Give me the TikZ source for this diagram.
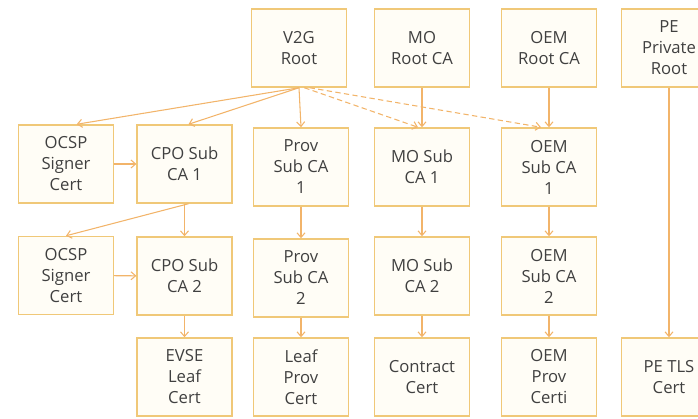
\documentclass[tikz,border=0pt]{standalone}
\usepackage{fontspec}
\setmainfont{Open Sans}
\usetikzlibrary{arrows.meta,positioning}
\definecolor{boxline}{HTML}{F0C878}
\definecolor{boxfill}{HTML}{FFFDF6}
\definecolor{arrowline}{HTML}{F2B46A}
\definecolor{certtext}{HTML}{404040}

\begin{document}
\begin{tikzpicture}
			[x=0.75pt,y=-0.75pt,
			cert/.style={rectangle,draw=boxline,fill=boxfill,line width=1.1pt,minimum width=71pt,minimum height=58.5pt,align=center,text=certtext,font=\fontsize{12.5}{15.75}\selectfont,inner sep=1pt},
			link/.style={draw=arrowline,line width=0.8pt,-{Straight Barb[length=3.5pt,width=6pt]}},
			cross/.style={link,dashed,dash pattern=on 4pt off 2.5pt},
			]
			\clip (0,0) rectangle (698,418);
			% roots
			\node (v2g) [cert] at (299,48) {V2G\\Root};
			\node (mor) [cert] at (422,48) {MO\\Root CA};
			\node (oemr) [cert] at (549,48) {OEM\\Root CA};
			\node (per) [cert] at (669,48) {PE\\Private\\Root};
			% first sub CAs
			\node (ocsp1) [cert] at (66,164) {OCSP\\Signer\\Cert};
			\node (cpo1) [cert] at (184.5,164) {CPO Sub\\CA 1};
			\node (prov1) [cert] at (301,167) {Prov\\Sub CA\\1};
			\node (mo1) [cert] at (422,167) {MO Sub\\CA 1};
			\node (oem1) [cert] at (549,167) {OEM\\Sub CA\\1};
			% second sub CAs
			\node (ocsp2) [cert] at (66,275.5) {OCSP\\Signer\\Cert};
			\node (cpo2) [cert] at (184.5,276) {CPO Sub\\CA 2};
			\node (prov2) [cert] at (301,278) {Prov\\Sub CA\\2};
			\node (mo2) [cert] at (422,276) {MO Sub\\CA 2};
			\node (oem2) [cert] at (549,276) {OEM\\Sub CA\\2};
			% leaves
			\node (evse) [cert] at (184.5,377) {EVSE\\Leaf\\Cert};
			\node (leafprov) [cert] at (301,377) {Leaf\\Prov\\Cert};
			\node (contract) [cert] at (422,377) {Contract\\Cert};
			\node (oemprov) [cert] at (549,377) {OEM\\Prov\\Certi};
			\node (petls) [cert] at (669,377) {PE TLS\\Cert};

			\draw[link] (v2g.south) -- ([xshift=8pt]ocsp1.north);
			\draw[link] (v2g.south) -- ([xshift=3pt]cpo1.north);
			\draw[link] (v2g.south) -- (prov1.north);
			\draw[cross] ([xshift=4pt]v2g.south) -- ([xshift=-3pt]mo1.north);
			\draw[cross] ([xshift=8pt]v2g.south) -- ([xshift=-6pt]oem1.north);
			\draw[link] (mor) -- (mo1);
			\draw[link] (oemr) -- (oem1);
			\draw[link] (per) -- (petls);
			\draw[link] (ocsp1) -- (cpo1);
			\draw[link] ([xshift=3pt]cpo1.south) -- (ocsp2.north);
			\draw[link] (cpo1) -- (cpo2);
			\draw[link] (ocsp2) -- (cpo2);
			\draw[link] (cpo2) -- (evse);
			\draw[link] (prov1) -- (prov2);
			\draw[link] (prov2) -- (leafprov);
			\draw[link] (mo1) -- (mo2);
			\draw[link] (mo2) -- (contract);
			\draw[link] (oem1) -- (oem2);
			\draw[link] (oem2) -- (oemprov);
			\end{tikzpicture}
\end{document}
